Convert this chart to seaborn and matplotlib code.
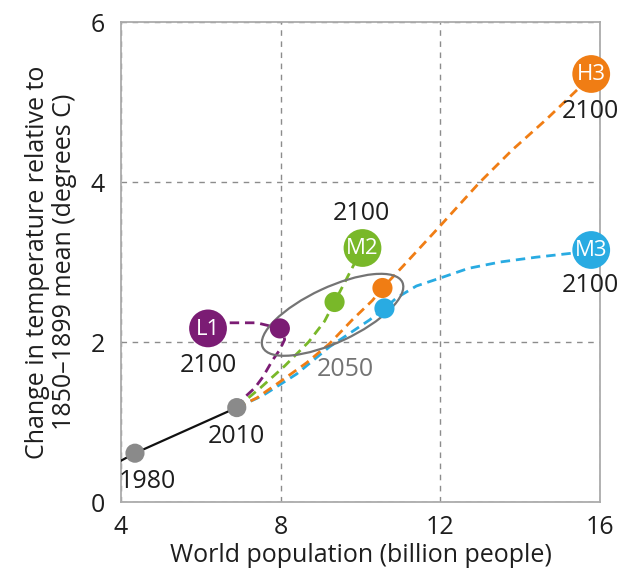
import matplotlib
matplotlib.use("Agg")
import matplotlib.pyplot as plt
import seaborn as sns
from matplotlib.patches import Ellipse
from matplotlib.transforms import Affine2D

# Observed path: world population (billions) vs warming (deg C)
hist_pop = [3.9, 4.35, 6.9]
hist_temp = [0.49, 0.61, 1.18]
hist_marked_pop = [4.35, 6.9]
hist_marked_temp = [0.61, 1.18]
hist_marked_years = ["1980", "2010"]

# Scenario end states
scenario_names = ["L1", "M2", "M3", "H3"]
scenario_colors = ["#7b1c74", "#79b829", "#29abe2", "#f07d14"]
pop_2050 = [7.98, 9.35, 10.6, 10.55]
temp_2050 = [2.17, 2.5, 2.42, 2.675]
pop_2100 = [6.18, 10.05, 15.78, 15.78]
temp_2100 = [2.17, 3.175, 3.15, 5.35]

# Scenario trajectories 2010 -> 2050 -> 2100
l1_path_pop = [6.9, 7.1, 7.35, 7.55, 7.8, 7.975, 8.1, 8.07, 7.98, 7.4, 6.7, 6.18]
l1_path_temp = [1.18, 1.31, 1.425, 1.56, 1.775, 1.9, 2.03, 2.1, 2.17, 2.24, 2.24, 2.17]

m2_path_pop = [6.9, 7.5, 8.1, 8.7, 9.1, 9.35, 10.05]
m2_path_temp = [1.18, 1.43, 1.7, 2.0, 2.26, 2.5, 3.175]

m3_path_pop = [6.9, 7.55, 8.4, 9.225, 10.225, 10.6, 10.9, 11.4, 12.0, 12.7, 13.5,
               14.4, 15.3, 15.78]
m3_path_temp = [1.18, 1.33, 1.6, 1.94, 2.275, 2.42, 2.55, 2.7, 2.8, 2.92, 3.0,
                3.06, 3.11, 3.15]

h3_path_pop = [6.9, 7.4, 7.975, 8.65, 9.225, 9.8, 10.3, 10.55, 11.05, 11.975,
               12.975, 13.8, 14.65, 15.475, 15.78]
h3_path_temp = [1.18, 1.3, 1.5, 1.74, 1.98, 2.28, 2.52, 2.675, 2.94, 3.44,
                3.99, 4.4, 4.78, 5.175, 5.35]

x_ticks = [4, 8, 12, 16]
y_ticks = [0, 2, 4, 6]

sns.set_theme(style="white")
plt.rcParams["font.family"] = ["Open Sans", "DejaVu Sans"]

TEXT = "#1e1e1e"
AXIS_GREY = "#ababab"
FS = 18

fig = plt.figure(figsize=(6.21, 5.79), dpi=100)
ax = fig.add_axes([121 / 621, 1 - 502 / 579, 479 / 621, 480 / 579])
ax.set_xlim(4, 16)
ax.set_ylim(0, 6)

# Grid and frame
ax.set_xticks(x_ticks)
ax.set_yticks(y_ticks)
ax.grid(True, color="#8c8c8c", linewidth=1.0, linestyle=(0, (4, 4)))
ax.set_axisbelow(True)
for side in ["left", "right", "top", "bottom"]:
    ax.spines[side].set_visible(True)
    ax.spines[side].set_color(AXIS_GREY)
    ax.spines[side].set_linewidth(1.3)
ax.tick_params(axis="both", which="major", direction="inout", length=9,
               width=1.2, color=AXIS_GREY, labelsize=FS, labelcolor=TEXT)
ax.tick_params(axis="x", pad=5)
ax.tick_params(axis="y", pad=7)
ax.set_xlabel("World population (billion people)", fontsize=FS, color=TEXT,
              labelpad=2)
ax.set_ylabel("Change in temperature relative to\n1850\u20131899 mean (degrees C)",
              fontsize=FS, color=TEXT, labelpad=10, linespacing=1.1)

# Historical line
sns.lineplot(x=hist_pop, y=hist_temp, sort=False, estimator=None, color="#111111",
             linewidth=1.6, ax=ax, zorder=3)

# Scenario trajectories
dash = (0, (3.4, 2.1))
paths = [(l1_path_pop, l1_path_temp), (m2_path_pop, m2_path_temp),
         (m3_path_pop, m3_path_temp), (h3_path_pop, h3_path_temp)]
for (px, py), col in zip(paths, scenario_colors):
    sns.lineplot(x=px, y=py, sort=False, estimator=None, color=col,
                 linewidth=2.0, linestyle=dash, ax=ax, zorder=3)

# Ring around the 2050 states (drawn in pixel space so it stays a true ellipse)
fig_w, fig_h = fig.get_size_inches() * fig.dpi
pos = ax.get_position()
px_per_x = pos.width * fig_w / (16 - 4)
px_per_y = pos.height * fig_h / (6 - 0)
ring = Ellipse((0, 0), width=154, height=55, angle=25, fill=False,
               edgecolor="#747474", linewidth=1.6, zorder=4)
ring.set_transform(Affine2D().scale(1 / px_per_x, 1 / px_per_y).translate(9.3, 2.34)
                   + ax.transData)
ax.add_patch(ring)

# Markers
sns.scatterplot(x=hist_marked_pop, y=hist_marked_temp, s=190, color="#8a8a8a",
                edgecolor="none", ax=ax, zorder=5)
sns.scatterplot(x=pop_2050, y=temp_2050, hue=scenario_names, palette=scenario_colors,
                s=210, edgecolor="none", legend=False, ax=ax, zorder=5)
sns.scatterplot(x=pop_2100, y=temp_2100, hue=scenario_names, palette=scenario_colors,
                s=740, edgecolor="none", legend=False, ax=ax, zorder=5,
                clip_on=False)
for name, x, y in zip(scenario_names, pop_2100, temp_2100):
    ax.text(x, y - 0.01, name, color="white", fontsize=16, ha="center", va="center",
            zorder=6)

# Year labels
for yr, x, y in zip(hist_marked_years, hist_marked_pop, hist_marked_temp):
    ax.text(x + (0.32 if yr == "1980" else 0.0), y - 0.36, yr, fontsize=FS,
            color=TEXT, ha="center", va="center", zorder=6)
year_label_pos = {"L1": (6.18, 1.7), "M2": (10.03, 3.61), "M3": (15.76, 2.7),
                  "H3": (15.76, 4.875)}
for name in scenario_names:
    lx, ly = year_label_pos[name]
    ax.text(lx, ly, "2100", fontsize=FS, color=TEXT, ha="center", va="center",
            zorder=6)
ax.text(9.63, 1.65, "2050", fontsize=FS, color="#737373", ha="center", va="center",
        zorder=6)

fig.savefig("out.png", dpi=100)
